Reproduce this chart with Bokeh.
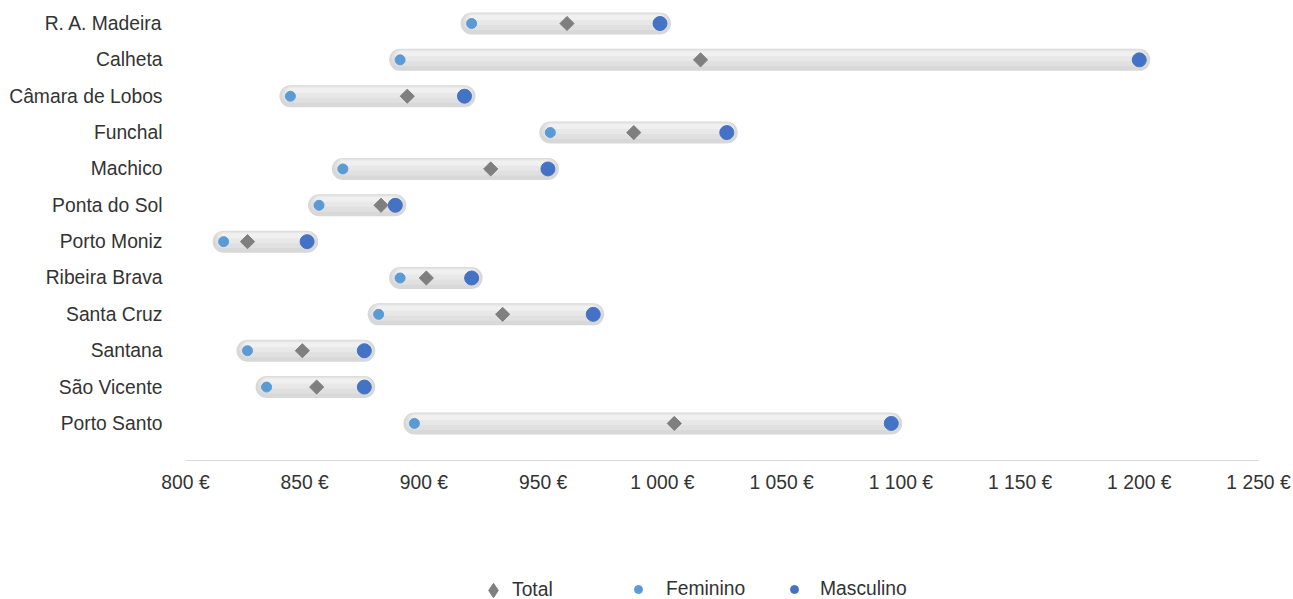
from bokeh.plotting import figure
from bokeh.models import Range1d, FixedTicker, Legend, LegendItem, ColumnDataSource
from bokeh.layouts import column
from bokeh.embed import file_html
from bokeh.resources import INLINE
import math

# ---- data ----
regions = ["R. A. Madeira", "Calheta", "Câmara de Lobos", "Funchal", "Machico",
           "Ponta do Sol", "Porto Moniz", "Ribeira Brava", "Santa Cruz",
           "Santana", "São Vicente", "Porto Santo"]
feminino = [920, 890, 844, 953, 866, 856, 816, 890, 881, 826, 834, 896]
total = [960, 1016, 893, 988, 928, 882, 826, 901, 933, 849, 855, 1005]
masculino = [999, 1200, 917, 1027, 952, 888, 851, 920, 971, 875, 875, 1096]
tick_values = [800, 850, 900, 950, 1000, 1050, 1100, 1150, 1200, 1250]
tick_labels = ["800 €", "850 €", "900 €", "950 €", "1 000 €", "1 050 €",
               "1 100 €", "1 150 €", "1 200 €", "1 250 €"]

FONT = "Liberation Sans"
FS = "19.3px"
TXT = "#333333"
C_T, C_F, C_M = "#7f7f7f", "#5b9bd5", "#4472c4"

rows = list(range(len(regions)))
ROW_PX = 36.36
px = 1.0 / ROW_PX
LEFT = 185

lo = [min(a, b, c) for a, b, c in zip(feminino, total, masculino)]
hi = [max(a, b, c) for a, b, c in zip(feminino, total, masculino)]

p = figure(width=1293, height=500, output_backend="svg", toolbar_location=None,
           x_range=Range1d(800, 1250),
           y_range=Range1d(12.02, -0.4125),
           min_border_left=LEFT, min_border_right=35,
           min_border_top=8, min_border_bottom=40)
p.outline_line_color = None
p.grid.visible = False

# gradient-like rounded bars
layers = [(22, "#d8d8d8", 0), (17, "#e0e0e0", -2), (11, "#e8e8e8", -4), (5, "#f0f0f0", -6)]
for w, col, off in layers:
    ys = [r + off * px for r in rows]
    p.segment(x0=lo, y0=ys, x1=hi, y1=ys, line_width=w, line_color=col, line_cap="round")

src = ColumnDataSource(dict(y=rows, f=feminino, t=total, m=masculino))
p.scatter(x="t", y="y", source=src, marker="square", size=10, angle=math.pi / 4,
          fill_color=C_T, line_color=C_T)
p.scatter(x="f", y="y", source=src, marker="circle", size=10,
          fill_color=C_F, line_color=C_F)
p.scatter(x="m", y="y", source=src, marker="circle", size=14,
          fill_color=C_M, line_color=C_M)

# x axis
xa = p.xaxis[0]
xa.ticker = FixedTicker(ticks=tick_values)
xa.major_label_overrides = {v: l for v, l in zip(tick_values, tick_labels)}
xa.axis_line_color = "#d9d9d9"
xa.major_tick_line_color = None
xa.minor_tick_line_color = None
xa.major_tick_out = 0
xa.major_label_standoff = 11
xa.major_label_text_font = FONT
xa.major_label_text_font_size = FS
xa.major_label_text_color = TXT

# y axis
ya = p.yaxis[0]
ya.ticker = FixedTicker(ticks=rows)
ya.major_label_overrides = {r: n for r, n in zip(rows, regions)}
ya.axis_line_color = None
ya.major_tick_line_color = None
ya.minor_tick_line_color = None
ya.major_tick_out = 0
ya.major_label_standoff = 23
ya.major_label_text_font = FONT
ya.major_label_text_font_size = FS
ya.major_label_text_color = TXT

# legend figure below (its renderers sit outside its visible range)
lf = figure(width=1293, height=99, output_backend="svg", toolbar_location=None,
            x_range=Range1d(0, 1), y_range=Range1d(0, 1),
            min_border_left=LEFT, min_border_right=35, min_border_top=0, min_border_bottom=0)
lf.axis.visible = False
lf.grid.visible = False
lf.outline_line_color = None

lr_t = lf.scatter(x="t", y="y", source=src, marker="diamond",
                  fill_color=C_T, line_color=C_T)
lr_f = lf.scatter(x="f", y="y", source=src, marker="circle",
                  fill_color=C_F, line_color=C_F)
lr_m = lf.scatter(x="m", y="y", source=src, marker="circle",
                  fill_color=C_M, line_color=C_M)

def add_leg(label, rend, cx, gw, standoff):
    leg = Legend(items=[LegendItem(label=label, renderers=[rend], index=0)],
                 location=(cx - LEFT - gw / 2, 9 - gw / 2), orientation="horizontal",
                 padding=0, margin=0, spacing=0,
                 glyph_width=gw, glyph_height=gw, label_height=20,
                 label_standoff=standoff,
                 border_line_alpha=0, background_fill_alpha=0,
                 label_text_font=FONT, label_text_font_size=FS,
                 label_text_color=TXT)
    lf.add_layout(leg)

add_leg("Total", lr_t, 493, 36, 1)
add_leg("Feminino", lr_f, 638, 20, 18)
add_leg("Masculino", lr_m, 794, 20, 16)

layout = column(p, lf, spacing=0)
open("out.html", "w").write(file_html(layout, INLINE))
